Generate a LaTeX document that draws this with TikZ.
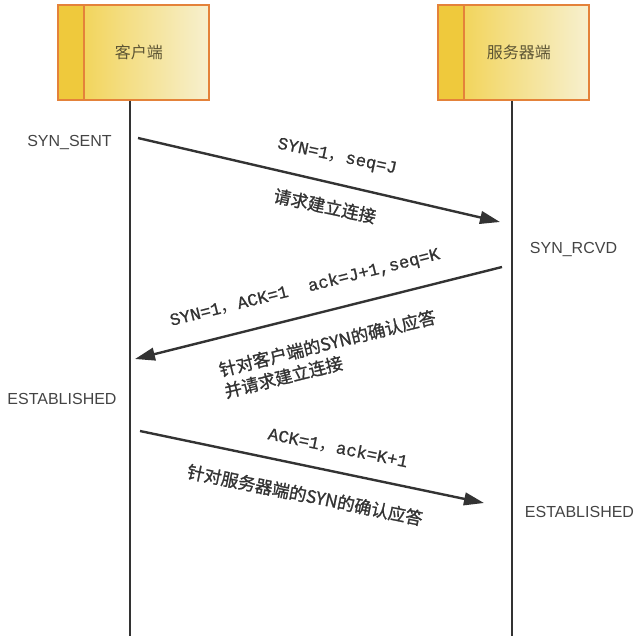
\documentclass[tikz,border=0pt]{standalone}
\usepackage{fontspec}
\setmainfont{Liberation Sans}
\newfontfamily\msgmono{Liberation Mono}[FakeBold=0.8]
\newfontfamily\cjk{Noto Sans CJK SC}
\newfontfamily\cjkbf{Noto Sans CJK SC}[FakeBold=1.2]
\usetikzlibrary{arrows.meta}
\definecolor{boxedge}{HTML}{E4823A}
\definecolor{boxleft}{HTML}{F1CF45}
\definecolor{boxright}{HTML}{F7F0CF}
\definecolor{stripfill}{HTML}{EFC93C}
\definecolor{boxtext}{HTML}{5C5434}
\definecolor{linegray}{HTML}{333333}
\definecolor{stategray}{HTML}{444444}
\tikzset{
	endbox/.style={draw=boxedge, line width=1.5pt, left color=boxleft, right color=boxright,
		minimum width=113pt, minimum height=71pt, text=boxtext, font=\cjk\fontsize{12}{14}\selectfont,
		path picture={
			\fill[stripfill] (path picture bounding box.north west) rectangle ([xshift=19.5pt]path picture bounding box.south west);
			\draw[boxedge, line width=1.5pt] ([xshift=19.5pt]path picture bounding box.north west) -- ([xshift=19.5pt]path picture bounding box.south west);
		}},
	lifeline/.style={draw=linegray, line width=1.5pt},
	msg/.style={draw=linegray, line width=1.8pt, -{Triangle[length=15pt,width=9.5pt]}},
	state/.style={text=stategray, font=\fontsize{12}{14}\selectfont, inner sep=0pt},
	msglabel/.style={text=linegray, font=\msgmono\fontsize{13}{15}\selectfont, inner sep=0pt},
	msgnote/.style={text=linegray, font=\cjkbf\fontsize{13}{16.5}\selectfont, align=left, inner sep=0pt}
}

\begin{document}
\begin{tikzpicture}[x=0.75pt,y=-0.75pt]
			\useasboundingbox (0,0) rectangle (640,644);

			% Define nodes
			\node[endbox] (client) at (133.5,52.5) {\hspace*{8pt}客户端};
			\node[endbox] (server) at (513.5,52.5) {\hspace*{8pt}服务器端};
			\coordinate (client-end) at (130,636);
			\coordinate (server-end) at (512,636);

			\node[state] (sent) at (69.5,142.5) {SYN\_SENT};
			\node[state] (rcvd) at (573.5,249) {SYN\_RCVD};
			\node[state] (client-est) at (62,399) {ESTABLISHED};
			\node[state] (server-est) at (579.5,511.5) {ESTABLISHED};

			\coordinate (syn-out) at (138,138);
			\coordinate (syn-in) at (500,222);
			\coordinate (synack-out) at (502,267);
			\coordinate (synack-in) at (135,359);
			\coordinate (ack-out) at (140,431);
			\coordinate (ack-in) at (484,503);

			\node[msglabel, rotate=-12] (syn-text) at (337,157) {SYN=1{\cjk ，}seq=J};
			\node[msgnote, rotate=-12] (syn-note) at (325,206) {请求建立连接};
			\node[msglabel, rotate=14] (synack-text) at (305,288) {SYN=1{\cjk ，}ACK=1\ \ ack=J+1,seq=K};
			\node[msgnote, rotate=14] (synack-note) at (330,354) {针对客户端的SYN的确认应答\\并请求建立连接};
			\node[msglabel, rotate=-11.5] (ack-text) at (338,448) {ACK=1{\cjk ，}ack=K+1};
			\node[msgnote, rotate=-11.5] (ack-note) at (305,495) {针对服务器端的SYN的确认应答};

			% Connect the nodes
			\draw[lifeline] (client.south -| client-end) -- (client-end);
			\draw[lifeline] (server.south -| server-end) -- (server-end);
			\draw[msg] (syn-out) -- (syn-in);
			\draw[msg] (synack-out) -- (synack-in);
			\draw[msg] (ack-out) -- (ack-in);
		\end{tikzpicture}
\end{document}
